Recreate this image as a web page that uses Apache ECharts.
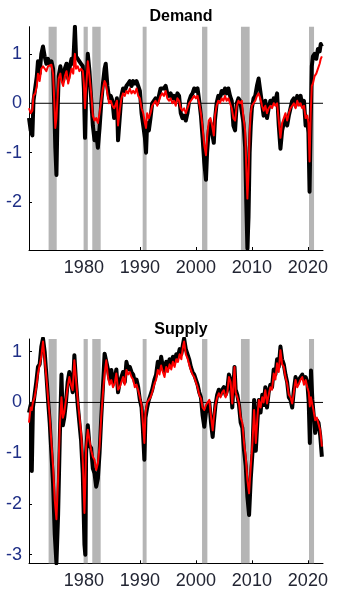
<!DOCTYPE html>
<html>
<head>
<meta charset="utf-8">
<script src="https://cdn.jsdelivr.net/npm/echarts@6/dist/echarts.min.js"></script>
<style>
  html, body { margin: 0; padding: 0; background: #fff; }
  #chart { width: 337px; height: 600px; }
</style>
</head>
<body>
<div id="chart"></div>
<script>
// Decimal-year sample dates and the two estimates for each shock.
// "fast" is the noisy estimate (black), "slow" the smoothed one (red).
const demandDates = [
  1970.2,1970.5,1970.8,1971.0,1971.3,1971.6,1971.8,1972.1,1972.4,1972.7,
  1973.0,1973.3,1973.6,1973.9,1974.2,1974.5,1974.7,1974.9,1975.1,1975.3,
  1975.5,1975.8,1976.0,1976.3,1976.6,1976.9,1977.2,1977.5,1977.8,1978.1,
  1978.4,1978.6,1978.9,1979.2,1979.5,1979.8,1980.0,1980.2,1980.4,1980.7,
  1981.0,1981.3,1981.6,1981.9,1982.2,1982.5,1982.8,1983.1,1983.4,1983.7,
  1983.9,1984.2,1984.5,1984.8,1985.1,1985.4,1985.6,1985.9,1986.1,1986.4,
  1986.7,1987.0,1987.3,1987.6,1987.9,1988.2,1988.5,1988.8,1989.1,1989.4,
  1989.7,1990.0,1990.3,1990.6,1990.9,1991.1,1991.3,1991.6,1991.9,1992.2,
  1992.5,1992.8,1993.1,1993.4,1993.7,1994.0,1994.3,1994.6,1994.9,1995.2,
  1995.5,1995.8,1996.1,1996.4,1996.7,1997.0,1997.3,1997.6,1997.9,1998.2,
  1998.5,1998.8,1999.1,1999.4,1999.7,2000.0,2000.3,2000.6,2000.9,2001.2,
  2001.5,2001.8,2002.0,2002.3,2002.6,2002.9,2003.2,2003.4,2003.7,2004.0,
  2004.3,2004.6,2004.9,2005.2,2005.5,2005.8,2006.1,2006.4,2006.7,2007.0,
  2007.3,2007.6,2007.9,2008.2,2008.5,2008.8,2009.0,2009.2,2009.4,2009.6,
  2009.8,2010.0,2010.3,2010.6,2010.9,2011.2,2011.5,2011.8,2012.1,2012.4,
  2012.7,2013.0,2013.3,2013.6,2013.9,2014.2,2014.5,2014.8,2015.1,2015.4,
  2015.7,2016.0,2016.3,2016.6,2016.9,2017.2,2017.5,2017.8,2018.1,2018.4,
  2018.7,2019.0,2019.3,2019.6,2019.9,2020.1,2020.3,2020.5,2020.7,2020.9,
  2021.2,2021.5,2021.8,2022.1,2022.3,2022.5
];
const demandSlow = [
  -0.10,-0.20,-0.15,0.15,0.20,0.35,0.60,0.45,0.70,0.75,
  0.78,0.65,0.75,0.72,0.78,0.60,0.10,-0.50,-0.30,0.10,
  0.50,0.60,0.45,0.35,0.55,0.65,0.40,0.55,0.70,0.60,
  1.00,0.70,0.75,0.65,0.70,0.65,0.40,-0.10,0.30,0.85,
  0.55,0.20,-0.25,-0.35,-0.30,-0.40,-0.20,0.05,0.30,0.45,
  0.40,0.20,0.00,0.05,-0.05,-0.10,-0.05,0.05,-0.45,-0.15,
  0.10,0.20,0.15,0.25,0.20,0.30,0.20,0.25,0.20,0.30,
  0.15,0.10,-0.10,-0.20,-0.40,-0.50,-0.20,-0.30,-0.20,-0.05,
  0.00,0.05,-0.05,0.05,0.15,0.20,0.15,0.25,0.10,0.05,
  0.10,0.00,0.05,-0.05,0.10,0.05,-0.10,-0.15,-0.10,-0.20,
  -0.10,0.00,0.05,0.10,0.15,0.10,0.15,0.00,-0.20,-0.50,
  -0.85,-1.05,-0.70,-0.35,-0.30,-0.45,-0.65,-0.25,-0.05,0.05,
  0.00,0.10,0.05,0.15,0.05,0.10,0.00,-0.10,-0.30,-0.35,
  -0.05,0.05,0.00,0.05,-0.30,-0.55,-1.30,-1.93,-1.40,-0.60,
  -0.20,-0.05,0.00,0.05,0.15,0.20,0.10,-0.05,-0.15,-0.05,
  -0.20,-0.10,-0.05,-0.10,0.00,-0.05,0.00,-0.35,-0.70,-0.40,
  -0.30,-0.20,-0.35,-0.20,-0.10,-0.05,0.00,-0.10,0.05,-0.05,
  0.00,-0.10,-0.05,-0.30,-0.25,-0.40,-1.18,-0.20,0.35,0.40,
  0.55,0.60,0.70,0.80,0.90,0.95
];
const demandFast = [
  -0.30,-0.55,-0.65,0.05,0.30,0.55,0.85,0.60,1.00,1.15,
  0.95,0.80,0.90,0.80,0.85,0.70,0.00,-0.90,-1.45,-0.20,
  0.55,0.75,0.60,0.45,0.70,0.80,0.50,0.75,0.90,0.80,
  1.55,0.95,0.90,0.85,0.80,0.75,0.30,-0.70,0.20,1.00,
  0.65,0.10,-0.45,-0.75,-0.60,-0.90,-0.50,0.00,0.40,0.70,
  0.80,0.35,0.10,0.15,0.05,-0.30,-0.20,0.10,-0.75,-0.30,
  0.15,0.30,0.25,0.35,0.40,0.45,0.35,0.45,0.40,0.45,
  0.35,0.25,-0.20,-0.45,-0.70,-1.00,-0.40,-0.55,-0.30,0.00,
  0.05,0.10,0.00,0.15,0.30,0.30,0.30,0.35,0.20,0.15,
  0.20,0.10,0.15,0.05,0.20,0.15,-0.20,-0.30,-0.25,-0.35,
  -0.20,0.05,0.15,0.20,0.30,0.25,0.30,0.05,-0.25,-0.70,
  -1.20,-1.55,-1.00,-0.55,-0.40,-0.60,-0.80,-0.35,0.00,0.15,
  0.10,0.25,0.20,0.30,0.20,0.30,0.15,0.05,-0.45,-0.55,
  0.00,0.10,0.05,0.05,-0.40,-0.90,-2.00,-2.94,-2.30,-1.00,
  -0.45,-0.10,0.10,0.15,0.35,0.50,0.25,0.00,-0.25,0.05,
  -0.30,-0.10,0.05,0.00,0.10,0.05,0.20,-0.45,-0.92,-0.55,
  -0.40,-0.30,-0.45,-0.25,-0.10,0.05,0.10,-0.05,0.15,0.05,
  0.15,-0.05,0.05,-0.45,-0.35,-0.60,-1.79,-0.40,0.75,0.95,
  1.00,0.90,1.10,1.05,1.20,1.15
];

const supplyDates = [
  1970.2,1970.5,1970.7,1970.9,1971.2,1971.5,1971.8,1972.1,1972.4,1972.7,
  1973.0,1973.3,1973.6,1973.9,1974.2,1974.5,1974.8,1975.1,1975.4,1975.7,
  1976.0,1976.25,1976.5,1976.8,1977.1,1977.4,1977.7,1978.0,1978.3,1978.6,
  1978.9,1979.2,1979.5,1979.8,1980.1,1980.25,1980.4,1980.7,1981.0,1981.3,
  1981.6,1981.9,1982.2,1982.5,1982.8,1983.1,1983.4,1983.7,1984.0,1984.3,
  1984.6,1984.9,1985.2,1985.5,1985.8,1986.1,1986.4,1986.7,1987.0,1987.3,
  1987.6,1987.9,1988.2,1988.5,1988.8,1989.1,1989.4,1989.7,1990.0,1990.3,
  1990.5,1990.8,1991.0,1991.3,1991.6,1991.9,1992.2,1992.6,1992.9,1993.2,
  1993.5,1993.8,1994.1,1994.4,1994.7,1995.0,1995.3,1995.6,1995.9,1996.2,
  1996.5,1996.8,1997.1,1997.4,1997.7,1997.9,1998.2,1998.5,1998.8,1999.1,
  1999.4,1999.7,2000.0,2000.3,2000.6,2000.9,2001.2,2001.5,2001.8,2002.1,
  2002.4,2002.7,2003.0,2003.2,2003.5,2003.8,2004.1,2004.4,2004.7,2005.0,
  2005.3,2005.6,2005.9,2006.2,2006.5,2006.9,2007.1,2007.4,2007.7,2008.0,
  2008.3,2008.6,2008.9,2009.2,2009.5,2009.8,2010.1,2010.4,2010.7,2011.0,
  2011.25,2011.55,2011.85,2012.1,2012.4,2012.7,2013.0,2013.3,2013.6,2013.9,
  2014.2,2014.5,2014.8,2015.1,2015.4,2015.7,2016.0,2016.3,2016.6,2016.9,
  2017.2,2017.5,2017.8,2018.1,2018.4,2018.7,2019.0,2019.3,2019.6,2019.9,
  2020.15,2020.35,2020.55,2020.8,2021.0,2021.3,2021.6,2021.9,2022.2,2022.5
];
const supplySlow = [
  -0.40,-0.10,-0.15,0.00,0.10,0.30,0.57,0.60,0.90,1.20,
  0.85,0.50,0.10,-0.28,-0.80,-1.27,-1.92,-2.30,-1.50,-0.48,
  0.10,-0.30,-0.20,0.05,0.30,0.50,0.35,0.24,0.83,0.44,
  0.05,-0.28,-0.60,-1.13,-2.18,-1.60,-0.87,-0.54,-0.74,-0.94,
  -1.07,-1.13,-1.33,-1.20,-0.87,-0.28,0.18,0.57,0.83,0.50,
  0.35,0.44,0.30,0.37,0.57,0.25,0.30,0.40,0.50,0.35,
  0.64,0.55,0.60,0.50,0.45,0.30,0.35,0.24,0.10,-0.05,
  -0.35,-0.80,-0.20,0.00,0.05,0.10,0.20,0.37,0.45,0.64,
  0.55,0.73,0.60,0.50,0.70,0.60,0.75,0.65,0.80,0.70,
  0.85,0.80,0.95,0.85,1.10,1.20,0.95,0.87,0.75,0.64,
  0.55,0.50,0.40,0.30,0.15,0.08,-0.10,-0.15,-0.05,-0.08,
  0.05,-0.28,-0.55,-0.30,-0.05,0.10,0.18,0.10,0.20,0.24,
  0.10,0.18,0.50,0.40,-0.02,0.70,0.20,0.10,-0.02,-0.30,
  -0.40,-0.80,-1.07,-1.53,-1.79,-1.27,-0.80,-0.15,-0.80,-0.28,
  0.05,-0.10,0.10,0.00,0.24,-0.02,0.15,0.30,0.25,0.57,
  0.45,0.77,0.60,1.03,0.75,0.70,0.50,0.37,0.15,0.10,
  -0.02,0.20,0.44,0.30,0.37,0.45,0.50,0.35,0.44,0.30,
  0.20,-0.08,0.10,-0.05,-0.15,-0.35,-0.30,-0.28,-0.55,-0.87
];
const supplyFast = [
  -0.20,-0.05,-1.35,-0.10,0.15,0.40,0.70,0.75,1.10,1.26,
  1.00,0.55,0.05,-0.40,-1.00,-1.60,-2.60,-3.17,-2.20,-0.70,
  0.55,-0.45,-0.30,0.00,0.40,0.60,0.40,0.20,0.93,0.40,
  -0.05,-0.40,-0.75,-1.40,-2.80,-3.00,-1.00,-0.45,-0.85,-0.90,
  -1.30,-1.40,-1.66,-1.50,-1.00,-0.30,0.30,0.96,0.95,0.65,
  0.45,0.64,0.40,0.45,0.65,0.20,0.40,0.50,0.60,0.40,
  0.80,0.65,0.70,0.60,0.55,0.40,0.45,0.30,0.05,-0.10,
  -0.45,-1.13,-0.30,-0.10,0.05,0.15,0.25,0.45,0.55,0.80,
  0.65,0.90,0.70,0.60,0.80,0.70,0.85,0.75,0.90,0.80,
  0.95,0.90,1.05,0.95,1.15,1.26,1.05,0.95,0.85,0.70,
  0.60,0.55,0.45,0.35,0.20,0.10,-0.25,-0.48,-0.20,-0.10,
  0.00,-0.40,-0.68,-0.40,-0.05,0.15,0.25,0.15,0.25,0.30,
  0.15,0.25,0.55,0.45,-0.10,0.70,0.25,0.15,-0.05,-0.40,
  -0.50,-0.95,-1.25,-1.86,-2.22,-1.50,-1.00,0.05,-0.95,-0.35,
  0.05,-0.20,0.15,-0.05,0.30,-0.10,0.20,0.35,0.30,0.65,
  0.55,0.85,0.70,1.10,0.85,0.75,0.55,0.40,0.10,0.05,
  -0.10,0.25,0.50,0.35,0.45,0.50,0.55,0.45,0.50,0.40,
  0.00,-0.80,0.63,0.05,-0.20,-0.60,-0.35,-0.40,-0.65,-1.07
];

// Recession periods shaded in both panels (start, end in decimal years).
const recessions = [
  [1973.7, 1975.15], [1979.95, 1980.7], [1981.5, 1983.0], [1990.5, 1991.2],
  [2001.1, 2002.05], [2008.05, 2009.6], [2020.2, 2021.1]
];
const yearTicks = [1980, 1990, 2000, 2010, 2020];
const demandTicks = [-2, -1, 0, 1];
const supplyTicks = [-3, -2, -1, 0, 1];
const panelTitles = ['Demand', 'Supply'];

const X_MIN = 1970.2, X_MAX = 2022.7;
const FONT = 'Liberation Sans, Arial, Helvetica, sans-serif';

function pairs(xs, ys) { return xs.map((x, i) => [x, ys[i]]); }

function xAxisFor(idx) {
  return {
    type: 'value', gridIndex: idx, min: X_MIN, max: X_MAX,
    axisLine: { show: true, onZero: false, lineStyle: { color: '#000', width: 1 } },
    axisTick: { show: true, inside: true, length: 3, customValues: yearTicks, lineStyle: { color: '#000' } },
    axisLabel: { customValues: yearTicks, margin: 9, fontSize: 18, color: '#222533', fontFamily: FONT,
                 formatter: v => String(v) },
    splitLine: { show: false }
  };
}
function yAxisFor(idx, min, max, ticks) {
  return {
    type: 'value', gridIndex: idx, min: min, max: max,
    axisLine: { show: true, onZero: false, lineStyle: { color: '#000', width: 1 } },
    axisTick: { show: true, inside: true, length: 3, customValues: ticks, lineStyle: { color: '#000' } },
    axisLabel: { customValues: ticks, margin: 7, fontSize: 18, color: '#1f2f86', fontFamily: FONT,
                 formatter: v => String(v) },
    splitLine: { show: false }
  };
}

function panelSeries(idx, dates, fast, slow) {
  return [
    {
      // shaded recession bands
      type: 'line', xAxisIndex: idx, yAxisIndex: idx, data: [], silent: true,
      markArea: {
        silent: true,
        itemStyle: { color: '#b5b5b5' },
        data: recessions.map(r => [{ xAxis: r[0] }, { xAxis: r[1] }])
      }
    },
    {
      // zero reference line
      type: 'line', xAxisIndex: idx, yAxisIndex: idx, silent: true, symbol: 'none',
      data: [[X_MIN, 0], [X_MAX, 0]],
      lineStyle: { color: '#000', width: 1 }
    },
    {
      type: 'line', xAxisIndex: idx, yAxisIndex: idx, symbol: 'none', silent: true,
      data: pairs(dates, fast),
      lineStyle: { color: '#000', width: 4, join: 'round' }
    },
    {
      type: 'line', xAxisIndex: idx, yAxisIndex: idx, symbol: 'none', silent: true,
      data: pairs(dates, slow),
      lineStyle: { color: '#ff0000', width: 2, join: 'round' }
    }
  ];
}

const chart = echarts.init(document.getElementById('chart'), null, { renderer: 'canvas' });
chart.setOption({
  animation: false,
  backgroundColor: '#ffffff',
  title: [
    { text: panelTitles[0], left: 176, top: 4, textAlign: 'center',
      textStyle: { fontSize: 16, fontWeight: 'bold', color: '#000', fontFamily: FONT } },
    { text: panelTitles[1], left: 176, top: 317, textAlign: 'center',
      textStyle: { fontSize: 16, fontWeight: 'bold', color: '#000', fontFamily: FONT } }
  ],
  grid: [
    { left: 29, top: 26.7, width: 294, height: 223.3, containLabel: false },
    { left: 29, top: 339, width: 294, height: 224.3, containLabel: false }
  ],
  xAxis: [xAxisFor(0), xAxisFor(1)],
  yAxis: [
    yAxisFor(0, -2.97, 1.55, demandTicks),
    yAxisFor(1, -3.17, 1.25, supplyTicks)
  ],
  series: [
    ...panelSeries(0, demandDates, demandFast, demandSlow),
    ...panelSeries(1, supplyDates, supplyFast, supplySlow)
  ]
});
</script>
</body>
</html>
